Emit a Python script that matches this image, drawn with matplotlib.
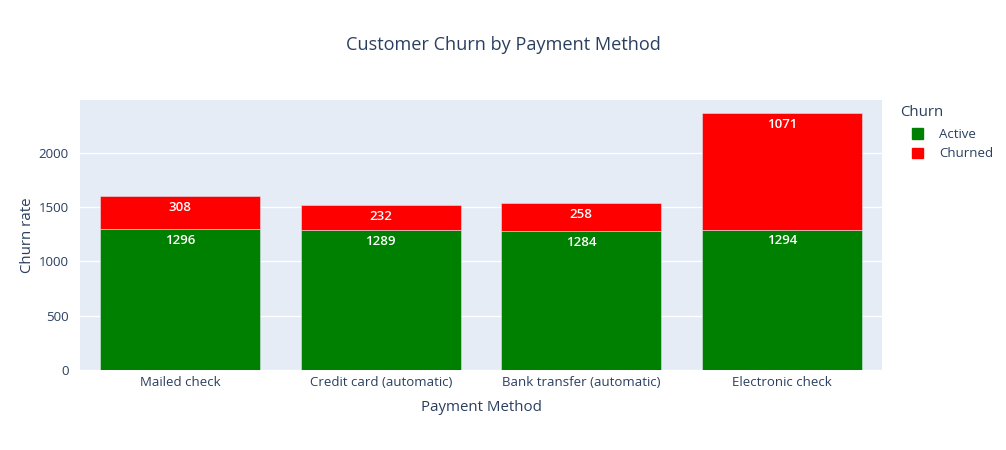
import matplotlib
matplotlib.use("Agg")
import matplotlib.pyplot as plt
from matplotlib.patches import Patch

methods = ["Mailed check", "Credit card (automatic)", "Bank transfer (automatic)", "Electronic check"]
active = [1296, 1289, 1284, 1294]
churned = [308, 232, 258, 1071]

C_ACTIVE = "#008000"
C_CHURN = "#FF0000"
TXT = "#2a3f5f"
BG = "#E5ECF6"

plt.rcParams["font.family"] = ["Open Sans", "DejaVu Sans"]

W, H = 1006, 450
fig = plt.figure(figsize=(W / 100, H / 100), dpi=100)
ax = fig.add_axes([80 / W, 80 / H, 802 / W, 270 / H])
ax.set_facecolor(BG)

x = range(len(methods))
ax.bar(x, active, 0.8, color=C_ACTIVE, edgecolor=BG, lw=0.36, label="Active", zorder=2)
ax.bar(x, churned, 0.8, bottom=active, color=C_CHURN, edgecolor=BG, lw=0.36, label="Churned", zorder=2)

for i in x:
    ax.annotate(str(active[i]), (i, active[i]), xytext=(0, -3.5), textcoords="offset points",
                ha="center", va="top", color="white", fontsize=9.5, fontweight="semibold")
    ax.annotate(str(churned[i]), (i, active[i] + churned[i]), xytext=(0, -3.5), textcoords="offset points",
                ha="center", va="top", color="white", fontsize=9.5, fontweight="semibold")

ax.set_xlim(-0.5, 3.5)
ax.set_ylim(0, 2488)
ax.set_yticks([0, 500, 1000, 1500, 2000])
ax.set_xticks(list(x))
ax.set_xticklabels(methods)
ax.grid(axis="y", color="white", lw=1, zorder=0)
ax.set_axisbelow(True)
for s in ax.spines.values():
    s.set_visible(False)
ax.tick_params(length=0, labelsize=9.5, colors=TXT, pad=4)
ax.tick_params(axis="y", pad=8)
ax.set_xlabel("Payment Method", fontsize=10.8, color=TXT, labelpad=8)
ax.set_ylabel("Churn rate", fontsize=10.8, color=TXT, labelpad=3)

fig.text(503 / W, 1 - 45 / H, "Customer Churn by Payment Method", ha="center", va="center",
         fontsize=13.1, color=TXT)

# legend title drawn separately so the entries can sit indented below it
fig.text(900 / W, 1 - 113 / H, "Churn", ha="left", va="center", fontsize=10.8, color=TXT)
handles = [Patch(color=C_ACTIVE, label="Active"), Patch(color=C_CHURN, label="Churned")]
leg = fig.legend(handles=handles, loc="upper left", bbox_to_anchor=(900 / W, 1 - 116 / H),
                 frameon=False, fontsize=9.5, handlelength=0.85, handleheight=0.85,
                 handletextpad=1.2, labelspacing=0.5)
for t in leg.get_texts():
    t.set_color(TXT)

fig.savefig("out.png", dpi=100)
